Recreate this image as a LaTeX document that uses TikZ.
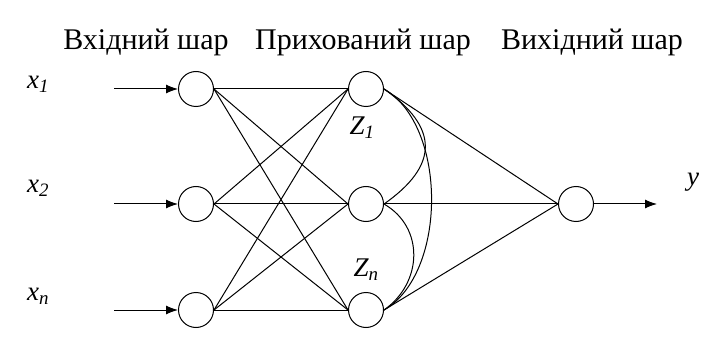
\documentclass[tikz,border=0pt]{standalone}
\usepackage{fontspec}
\setmainfont{Liberation Serif}
\usetikzlibrary{arrows.meta,positioning}

\begin{document}
\begin{tikzpicture}[
  x=1pt, y=1pt,
  neuron/.style={draw, circle, minimum size=35pt, inner sep=0pt, line width=1pt},
  layer/.style={font=\fontsize{30}{32}\selectfont, anchor=base},
  lbl/.style={font=\fontsize{27}{29}\selectfont\itshape},
  link/.style={line width=1pt},
  arrow/.style={-{Latex[length=12pt,width=9pt]}, line width=1pt}
]
\useasboundingbox (0,0) rectangle (706,359);
% layer titles
\node[layer] (tin) at (146,309) {Вхідний шар};
\node[layer] (thid) at (363,309) {Прихований шар};
\node[layer] (tout) at (592,309) {Вихідний шар};

% neurons
\node[neuron] (i1) at (196,270) {};
\node[neuron, below=79pt of i1] (i2) {};
\node[neuron, below=70pt of i2] (i3) {};
\node[neuron, right=134pt of i1] (h1) {};
\node[neuron, right=134pt of i2] (h2) {};
\node[neuron, right=134pt of i3] (h3) {};
\node[neuron, right=174pt of h2] (o) {};

% labels
\node[lbl] (x1) at (38,275) {x\textsubscript{1}};
\node[lbl] (x2) at (38,171) {x\textsubscript{2}};
\node[lbl] (xn) at (38,63) {x\textsubscript{n}};
\node[lbl] (z1) at (362,231) {Z\textsubscript{1}};
\node[lbl] (zn) at (366,89) {Z\textsubscript{n}};
\node[lbl] (y) at (693,177) {y};

% inputs and output
\foreach \k in {1,2,3}
  \coordinate[left=64pt of i\k.west] (s\k);
\coordinate[right=63pt of o.east] (yout);
\foreach \k in {1,2,3}
  \draw[arrow] (s\k) -- (i\k.west);
\draw[arrow] (o.east) -- (yout);

% connections
\foreach \a in {1,2,3}
  \foreach \b in {1,2,3}
    \draw[link] (i\a.east) -- (h\b.west);
\foreach \b in {1,2,3}
  \draw[link] (h\b.east) -- (o.west);
\draw[link] (h1.east) to[out=-35, in=35, looseness=1.5] (h2.east);
\draw[link] (h1.east) to[out=-30, in=30, looseness=0.85] (h3.east);
\draw[link] (h2.east) to[out=-30, in=35, looseness=1.14] (h3.east);
\end{tikzpicture}
\end{document}
